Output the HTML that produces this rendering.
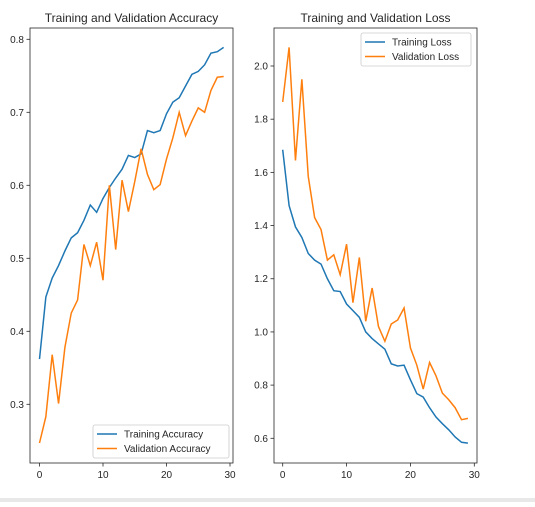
<!DOCTYPE html>
<html><head><meta charset="utf-8"><style>
body{margin:0;background:#fff;width:535px;height:502px;overflow:hidden}
svg text{font-family:"Liberation Sans","DejaVu Sans",sans-serif;fill:#262626}
</style></head><body>
<svg id="c" width="535" height="502" xmlns="http://www.w3.org/2000/svg">
<rect x="0" y="498" width="535" height="4" fill="#e8e8e8"/>
</svg>
<script>
const epochs=[0,1,2,3,4,5,6,7,8,9,10,11,12,13,14,15,16,17,18,19,20,21,22,23,24,25,26,27,28,29];
const trainAcc=[0.362,0.447,0.473,0.49,0.51,0.528,0.535,0.552,0.573,0.563,0.582,0.597,0.61,0.622,0.641,0.638,0.643,0.675,0.672,0.675,0.698,0.714,0.72,0.736,0.752,0.756,0.765,0.781,0.783,0.789];
const valAcc=[0.247,0.283,0.368,0.301,0.378,0.425,0.443,0.519,0.49,0.522,0.47,0.6,0.512,0.607,0.564,0.605,0.65,0.615,0.594,0.601,0.636,0.665,0.7,0.668,0.688,0.706,0.7,0.73,0.748,0.749];
const trainLoss=[1.685,1.475,1.395,1.355,1.295,1.27,1.255,1.2,1.155,1.152,1.105,1.08,1.055,1.0,0.975,0.955,0.935,0.88,0.872,0.875,0.82,0.768,0.755,0.715,0.68,0.655,0.632,0.605,0.585,0.582];
const valLoss=[1.865,2.07,1.645,1.95,1.585,1.43,1.385,1.27,1.29,1.215,1.33,1.11,1.28,1.04,1.165,1.02,0.965,1.03,1.045,1.09,0.94,0.875,0.785,0.885,0.835,0.77,0.745,0.715,0.67,0.675];
const xTicks=[0,10,20,30];
const accTicks=[0.3,0.4,0.5,0.6,0.7,0.8];
const lossTicks=[0.6,0.8,1.0,1.2,1.4,1.6,1.8,2.0];
const svg=document.getElementById('c');
const NS='http://www.w3.org/2000/svg';
function mk(t,a,p){const e=document.createElementNS(NS,t);for(const k in a)e.setAttribute(k,a[k]);(p||svg).appendChild(e);return e;}
function panel(cfg){
  const g=mk('g',{});
  
  
  const sx=v=>cfg.x0+(v-0)*(cfg.x30-cfg.x0)/30;
  const sy=v=>cfg.ya+(v-cfg.va)*(cfg.yb-cfg.ya)/(cfg.vb-cfg.va);
  xTicks.forEach(t=>{const x=sx(t);
    const l=mk('line',{x1:x,x2:x,y1:cfg.bot,y2:cfg.bot+3.5,stroke:'#262626','stroke-width':0.8},g);
    
    const tx=mk('text',{x:x,y:cfg.bot+15,'font-size':10,'text-anchor':'middle'},g);tx.textContent=t;
    });
  cfg.yt.forEach(t=>{const y=sy(t);
    const l=mk('line',{x1:cfg.left-3.5,x2:cfg.left,y1:y,y2:y,stroke:'#262626','stroke-width':0.8},g);
    
    const tx=mk('text',{x:cfg.left-6,y:y+3.5,'font-size':10,'text-anchor':'end'},g);tx.textContent=t.toFixed(1);
    });
  const cols=['#1f77b4','#ff7f0e'];
  cfg.series.forEach((s,i)=>{
    const p=mk('polyline',{points:s.map((v,j)=>sx(epochs[j]).toFixed(2)+','+sy(v).toFixed(2)).join(' '),fill:'none',stroke:cols[i],'stroke-width':1.5},g);
    });
  const fr=mk('rect',{x:cfg.left,y:cfg.top,width:cfg.right-cfg.left,height:cfg.bot-cfg.top,fill:'none',stroke:'#262626','stroke-width':0.8},g);
  
  const ti=mk('text',{x:(cfg.left+cfg.right)/2,y:22,'font-size':12,'text-anchor':'middle'},g);ti.textContent=cfg.title;
  
  const L=cfg.leg;
  const lg=mk('g',{},g);
  
  mk('rect',{x:L.x,y:L.y,width:L.w,height:33,rx:2,fill:'#fff','fill-opacity':0.8,stroke:'#ccc','stroke-width':0.8},lg);
  cfg.lnames.forEach((n,i)=>{const y=L.y+9+i*14.5;
    const ln=mk('line',{x1:L.x+4,x2:L.x+24,y1:y,y2:y,stroke:cols[i],'stroke-width':1.5},lg);
    
    const tx=mk('text',{x:L.x+31,y:y+3.5,'font-size':10},lg);tx.textContent=n;
    });
}
panel({name:'accuracy-panel',title:'Training and Validation Accuracy',left:30,right:233,top:28,bot:463,x0:39.5,x30:230,ya:404.3,va:0.3,yb:39.3,vb:0.8,yt:accTicks,
  series:[trainAcc,valAcc],snames:['training-accuracy-line','validation-accuracy-line'],lnames:['Training Accuracy','Validation Accuracy'],leg:{x:93,y:425,w:136}});
panel({name:'loss-panel',title:'Training and Validation Loss',left:274,right:477,top:28,bot:463,x0:282.7,x30:474.3,ya:438.3,va:0.6,yb:66,vb:2.0,yt:lossTicks,
  series:[trainLoss,valLoss],snames:['training-loss-line','validation-loss-line'],lnames:['Training Loss','Validation Loss'],leg:{x:361,y:33,w:110}});
</script>
</body></html>
